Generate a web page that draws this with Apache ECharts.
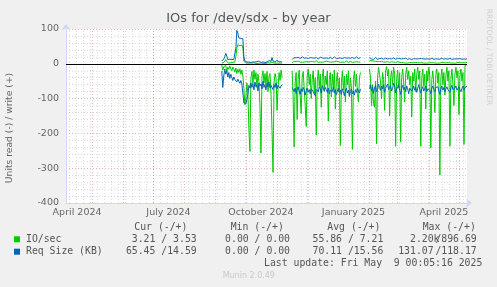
<!DOCTYPE html>
<html><head><meta charset="utf-8">
<script src="https://cdn.jsdelivr.net/npm/echarts@6/dist/echarts.min.js"></script>
<style>html,body{margin:0;padding:0;background:#F0F0F0;}#c{width:497px;height:287px;}</style>
</head><body><div id="c"></div>
<script>
// ---- data (daily values starting 2024-09-07, null = no data) ----
const DAY = 86400000;
const dataStart = Date.UTC(2024, 8, 7);
const axisStart = Date.UTC(2024, 3, 5);
const axisEnd = Date.UTC(2025, 4, 9, 0, 5);

const ioRead = [
-4,-18,-8,-12,-5,-22,-10,-16,-6,-14,
-20,-9,-15,-24,-12,-28,-16,-25,-14,-30,
-18,-35,-70,-118,-95,-55,-85,-190,-252,-40,
-22,-58,-18,-45,-25,-68,-30,-52,-120,-256,
-38,-20,-55,-28,-62,-22,-80,-35,-28,-88,
-190,-312,-55,-28,-42,-134,-70,-25,-48,-18,
-40,
null,null,null,null,null,null,null,null,null,
-20,-95,-239,-55,-25,-160,-45,-18,-90,-143,
-40,-22,-70,-120,-180,-35,-15,-60,-30,-100,
-45,-20,-85,-40,-205,-50,-18,-65,-30,-125,
-40,-15,-80,-35,-60,-20,-165,-45,-25,-95,
-30,-70,-18,-130,-50,-25,-80,-40,-235,-55,
-20,-75,-35,-110,-30,-60,-20,-90,-40,-70,
-246,-45,-20,-65,-30,-85,-110,-40,-25,
null,null,null,null,null,null,null,null,
-15,-40,-120,-60,-115,-125,-50,-230,-40,-10,
-30,-55,-100,-25,-45,-134,-20,-8,-35,-15,
-150,-40,-20,-60,-10,-30,-237,-45,-18,-70,
-25,-225,-40,-15,-55,-110,-30,-10,-45,-20,
-60,-35,-153,-25,-50,-15,-80,-30,-10,-45,
-20,-237,-40,-15,-65,-30,-130,-20,-50,-10,
-35,-242,-45,-20,-60,-140,-30,-15,-55,-25,
-320,-40,-15,-60,-25,-90,-35,-10,-50,-20,
-237,-45,-15,-60,-120,-30,-10,-40,-20,-146,
-35,-15,-50,-25,-232,-5,-3,-3
];
const ioWrite = [
2,6,4,8,12,6,3,2,4,3,
2,4,3,5,20,45,55,50,52,48,
54,45,8,3,2,1,2,3,2,1,
2,1,3,2,1,2,1,4,2,1,
2,3,1,2,1,2,3,6,2,1,
5,3,2,1,2,4,2,1,2,3,
2,
null,null,null,null,null,null,null,null,null,
3,5,7,4,6,5,8,4,5,6,
4,7,5,4,6,8,5,4,6,5,
7,4,5,6,9,5,4,6,5,7,
4,5,6,4,8,5,6,4,5,7,
5,4,6,5,8,4,6,5,4,7,
5,6,4,5,8,6,4,5,7,5,
4,6,5,8,6,4,5,7,5,
null,null,null,null,null,null,null,null,
10,12,9,11,8,9,7,8,6,7,
6,5,7,6,5,6,5,4,6,5,
4,5,6,4,5,3,4,5,6,3,
4,3,4,2,3,4,2,3,2,3,
4,2,3,2,3,2,4,2,3,2,
3,2,3,4,2,3,2,3,2,4,
3,2,3,2,3,4,2,3,2,3,
2,3,4,2,3,2,3,2,3,2,
3,4,2,3,2,3,2,3,4,2,
3,2,3,4,3,2,3,4
];
const reqRead = [
-20,-68,-35,-15,-30,-20,-38,-25,-42,-30,
-35,-48,-38,-45,-40,-52,-44,-50,-56,-48,
-58,-62,-112,-116,-115,-114,-88,-62,-70,-55,
-68,-58,-75,-52,-66,-60,-78,-55,-64,-58,
-72,-50,-68,-60,-75,-56,-66,-52,-70,-62,
-58,-74,-60,-68,-55,-72,-62,-58,-70,-64,
-60,
null,null,null,null,null,null,null,null,null,
-68,-72,-80,-70,-85,-74,-66,-78,-88,-72,
-80,-68,-75,-90,-78,-70,-82,-74,-86,-72,
-68,-80,-76,-92,-74,-70,-80,-66,-72,-84,
-62,-70,-78,-68,-74,-82,-70,-86,-76,-72,
-80,-68,-84,-74,-90,-78,-70,-82,-76,-88,
-72,-80,-92,-78,-70,-84,-76,-94,-80,-72,
-86,-78,-90,-74,-82,-70,-78,-84,-72,
null,null,null,null,null,null,null,null,
-72,-60,-78,-66,-85,-70,-62,-80,-74,-58,
-68,-76,-64,-72,-60,-82,-70,-66,-58,-74,
-68,-62,-78,-70,-56,-64,-84,-72,-66,-60,
-76,-88,-70,-62,-74,-68,-80,-64,-72,-86,
-70,-66,-78,-72,-64,-76,-68,-82,-70,-60,
-74,-84,-72,-66,-78,-70,-64,-80,-72,-68,
-76,-86,-70,-64,-74,-80,-68,-72,-66,-78,
-88,-72,-64,-76,-68,-80,-72,-66,-74,-70,
-82,-68,-62,-74,-78,-70,-64,-76,-72,-66,
-74,-80,-70,-64,-76,-68,-72,-65
];
const reqWrite = [
8,10,14,20,30,22,12,10,13,11,
12,10,13,15,45,96,88,74,70,73,
71,72,20,8,6,5,7,5,6,4,
6,5,7,5,4,6,5,8,5,4,
6,5,7,4,6,5,6,9,5,7,
18,8,6,5,7,10,5,6,4,6,
5,
null,null,null,null,null,null,null,null,null,
12,16,18,15,17,14,19,16,15,18,
20,22,16,14,17,19,15,16,18,14,
17,20,16,15,18,17,14,16,19,15,
17,20,16,14,17,18,15,16,19,17,
14,16,20,17,15,18,16,14,17,19,
15,16,18,21,16,15,17,19,16,14,
18,17,15,16,20,17,15,16,18,
null,null,null,null,null,null,null,null,
18,16,14,17,12,15,18,14,13,16,
15,14,16,15,13,14,16,15,14,13,
15,16,14,15,17,14,13,15,16,14,
15,18,14,13,15,14,16,15,13,14,
15,14,12,14,15,13,14,16,14,13,
15,14,15,13,14,16,14,13,14,15,
13,14,16,14,13,15,14,13,14,15,
13,14,16,15,13,14,15,14,13,14,
16,14,13,15,14,13,14,15,14,13,
15,14,13,15,14,16,13,15
];

// tick labels
const xLabelTexts = ['April 2024','July 2024','October 2024','January 2025','April 2025'];
const xLabelDates = [Date.UTC(2024,3,16), Date.UTC(2024,6,16), Date.UTC(2024,9,16), Date.UTC(2025,0,16), Date.UTC(2025,3,16)];

// legend
const legendNames = ['IO/sec', 'Req Size (KB)'];
const legendColors = ['#00CC00', '#0066B3'];
const curRead = ['3.21', '65.45'], curWrite = ['3.53', '14.59'];
const minRead = ['0.00', '0.00'], minWrite = ['0.00', '0.00'];
const avgRead = ['55.86', '70.11'], avgWrite = ['7.21', '15.56'];
const maxRead = ['2.20k', '131.07'], maxWrite = ['896.69', '118.17'];
const lastUpdate = 'Last update: Fri May  9 00:05:16 2025';

// ---- chart ----
const monthLines = [];
for (let y = 2024, m = 4; y * 12 + m <= 2025 * 12 + 4; m++) { if (m > 11) { m = 0; y++; } monthLines.push(Date.UTC(y, m, 1)); }
const weekLines = [];
for (let t = Date.UTC(2024, 3, 8); t < axisEnd; t += 7 * DAY) weekLines.push(t);

const pairs = arr => arr.map((v, i) => [dataStart + i * DAY, v]);
const GRID_MINOR = 'rgba(150,150,150,0.32)';
const GRID_MAJOR = 'rgba(215,60,60,0.38)';
const FONT = '"DejaVu Sans"';
const MONO = '"DejaVu Sans Mono"';

function lineSeries(data, color) {
  return { type: 'line', data: pairs(data), showSymbol: false, symbol: 'none', connectNulls: false,
    lineStyle: { color, width: 1 }, itemStyle: { color }, silent: true, animation: false, sampling: false };
}

const gridMarks = [];
weekLines.forEach(t => gridMarks.push({ xAxis: t, lineStyle: { color: GRID_MINOR, type: [1, 2], width: 1 } }));
monthLines.forEach(t => gridMarks.push({ xAxis: t, lineStyle: { color: GRID_MAJOR, type: [1, 2], width: 1 } }));

const graphics = [];
graphics.push({ type: 'text', x: 248.5, y: 18.5, style: { text: 'IOs for /dev/sdx - by year', font: '13px ' + FONT, fill: '#555', align: 'center', verticalAlign: 'middle' } });
graphics.push({ type: 'text', x: 10, y: 128, rotation: Math.PI / 2, style: { text: 'Units read (-) / write (+)', font: '9.2px ' + FONT, fill: '#666', align: 'center', verticalAlign: 'middle' } });
graphics.push({ type: 'text', x: 489, y: 57, rotation: -Math.PI / 2, style: { text: 'RRDTOOL / TOBI OETIKER', font: '7.5px ' + FONT, fill: '#d0d0d0', align: 'center', verticalAlign: 'middle' } });

const legFont = '9.8px ' + MONO, legFill = '#555';
['Cur (-/+)', 'Min (-/+)', 'Avg (-/+)', 'Max (-/+)'].forEach((h, k) => {
  graphics.push({ type: 'text', x: [134.3, 230.7, 327.3, 422.7][k], y: 227.3, style: { text: h, font: legFont, fill: legFill, verticalAlign: 'middle' } });
});
const rowY = [239.3, 251.7];
legendNames.forEach((name, r) => {
  const y = rowY[r];
  graphics.push({ type: 'rect', shape: { x: 14, y: y - 3, width: 6, height: 6 }, style: { fill: legendColors[r] } });
  graphics.push({ type: 'text', x: 26, y, style: { text: name, font: legFont, fill: legFill, verticalAlign: 'middle' } });
  const pair = (a, b) => a + ' /' + b.padStart(5);
  graphics.push({ type: 'text', x: 196.7, y, style: { text: pair(curRead[r], curWrite[r]), font: legFont, fill: legFill, align: 'right', verticalAlign: 'middle' } });
  graphics.push({ type: 'text', x: 290, y, style: { text: pair(minRead[r], minWrite[r]), font: legFont, fill: legFill, align: 'right', verticalAlign: 'middle' } });
  graphics.push({ type: 'text', x: 383.3, y, style: { text: pair(avgRead[r], avgWrite[r]), font: legFont, fill: legFill, align: 'right', verticalAlign: 'middle' } });
  const mr = maxRead[r] + (maxRead[r].endsWith('k') ? '' : ' ');
  graphics.push({ type: 'text', x: 439.5, y, style: { text: mr, font: legFont, fill: legFill, align: 'right', verticalAlign: 'middle' } });
  graphics.push({ type: 'text', x: 435.4, y, style: { text: '/' + maxWrite[r].padStart(5), font: legFont, fill: legFill, verticalAlign: 'middle' } });
});
graphics.push({ type: 'text', x: 482.3, y: 263.3, style: { text: lastUpdate, font: legFont, fill: legFill, align: 'right', verticalAlign: 'middle' } });
graphics.push({ type: 'text', x: 248.8, y: 275.7, style: { text: 'Munin 2.0.49', font: '8px ' + FONT, fill: '#c8c8c8', align: 'center', verticalAlign: 'middle' } });

const chart = echarts.init(document.getElementById('c'), null, { renderer: 'canvas' });
chart.setOption({
  animation: false,
  backgroundColor: '#F0F0F0',
  grid: { left: 66, top: 29, right: 30, bottom: 84, show: true, backgroundColor: '#FFFFFF', borderWidth: 0, containLabel: false, outerBoundsMode: 'none' },
  xAxis: {
    type: 'value', min: axisStart, max: axisEnd, scale: true,
    axisLine: { show: true, onZero: false, lineStyle: { color: '#CFD6F8', width: 1 }, symbol: ['none', 'arrow'], symbolSize: [7, 6], symbolOffset: [0, 5] },
    axisTick: { show: false },
    splitLine: { show: false },
    minorTick: { show: false }, minorSplitLine: { show: false },
    axisLabel: {
      customValues: xLabelDates,
      formatter: v => { let best = 0; xLabelDates.forEach((d, k) => { if (Math.abs(d - v) < Math.abs(xLabelDates[best] - v)) best = k; }); return xLabelTexts[best]; },
      color: '#666', fontFamily: 'DejaVu Sans', fontSize: 9.5, margin: 5, hideOverlap: false, showMinLabel: true, showMaxLabel: true
    }
  },
  yAxis: {
    type: 'value', min: -400, max: 100, interval: 100,
    axisLine: { show: true, lineStyle: { color: '#CFD6F8', width: 1 }, symbol: ['none', 'arrow'], symbolSize: [7, 6], symbolOffset: [0, 5] },
    axisTick: { show: false },
    axisLabel: { color: '#666', fontFamily: 'DejaVu Sans', fontSize: 9.5, margin: 7 },
    splitLine: { show: true, lineStyle: { color: GRID_MAJOR, type: [1, 2], width: 1 } },
    minorTick: { show: false, splitNumber: 5 },
    minorSplitLine: { show: true, lineStyle: { color: GRID_MINOR, type: [1, 2], width: 1 } }
  },
  series: [
    { type: 'line', data: [], silent: true, animation: false,
      markLine: { silent: true, animation: false, symbol: ['none', 'none'], label: { show: false }, emphasis: { disabled: true }, data: gridMarks } },
    lineSeries(ioRead, '#00CC00'),
    lineSeries(ioWrite, '#00CC00'),
    lineSeries(reqRead, '#0066B3'),
    lineSeries(reqWrite, '#0066B3'),
    { type: 'line', data: [], silent: true, animation: false,
      markLine: { silent: true, animation: false, symbol: ['none', 'none'], label: { show: false }, emphasis: { disabled: true },
        data: [{ yAxis: 0, lineStyle: { color: '#000', type: 'solid', width: 1 } }] } }
  ],
  graphic: graphics
});
</script>
</body></html>
